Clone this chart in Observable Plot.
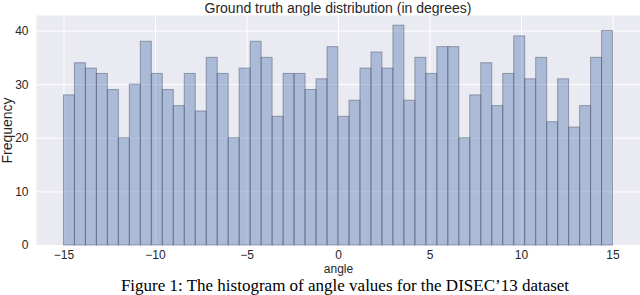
<!DOCTYPE html>
<html>
<head>
<meta charset="utf-8">
<script src="https://cdn.jsdelivr.net/npm/d3@7"></script>
<script src="https://cdn.jsdelivr.net/npm/@observablehq/plot@0.6"></script>
<style>
  html, body { margin: 0; padding: 0; background: #fff; }
  #wrap { position: relative; width: 640px; height: 295px; overflow: hidden; }
  #title { position: absolute; left: 36px; top: 0; width: 604px; height: 15px; line-height: 15px;
           text-align: center; font: 14px "Liberation Sans", Arial, sans-serif; color: #262626; white-space: nowrap; }
  #chart { position: absolute; left: 0; top: 15px; }
  #caption { position: absolute; left: 50px; top: 276px; width: 590px; height: 19px; line-height: 19px;
             text-align: center; font: 17px "Liberation Serif", "Times New Roman", serif; color: #000; white-space: nowrap; }
</style>
</head>
<body>
<div id="wrap">
  <div id="title"></div>
  <div id="chart"></div>
  <div id="caption"></div>
</div>
<script>
// ---- data ----
const titleText = "Ground truth angle distribution (in degrees)";
const captionText = "Figure 1: The histogram of angle values for the DISEC\u201913 dataset";
const xLabel = "angle";
const yLabel = "Frequency";
const binStart = -15;      // left edge of the first bin (degrees)
const binWidth = 0.6;      // 50 bins over [-15, 15]
const counts = [28,34,33,32,29,20,30,38,32,29,26,32,25,35,32,20,33,38,35,24,
                32,32,29,31,37,24,27,33,36,33,41,27,35,32,37,37,20,28,34,26,
                32,39,31,35,23,31,22,26,35,40];
const xTicks = [-15,-10,-5,0,5,10,15];
const yTicks = [0,10,20,30,40];

const bins = counts.map((c, i) => ({x1: binStart + i * binWidth, x2: binStart + (i + 1) * binWidth, count: c}));

document.getElementById("title").textContent = titleText;
document.getElementById("caption").textContent = captionText;

const fmt = d3.format("d");
const chart = Plot.plot({
  width: 640,
  height: 260,
  marginLeft: 36,
  marginRight: 0,
  marginTop: 0,
  marginBottom: 30,
  style: {fontFamily: "'Liberation Sans', Arial, sans-serif", fontSize: "12px", color: "#262626", background: "transparent", overflow: "visible"},
  x: {domain: [-16.5, 16.5], ticks: xTicks, tickFormat: fmt, tickSize: 0, tickPadding: 5, label: null},
  y: {domain: [0, 42.9], ticks: yTicks, tickFormat: fmt, tickSize: 0, tickPadding: 8, label: null},
  marks: [
    Plot.frame({fill: "#EAEAF2", stroke: null}),
    Plot.gridX(xTicks, {stroke: "#fff", strokeOpacity: 1, strokeWidth: 1}),
    Plot.gridY(yTicks, {stroke: "#fff", strokeOpacity: 1, strokeWidth: 1}),
    Plot.rectY(bins, {x1: "x1", x2: "x2", y: "count", fill: "#4C72B0", fillOpacity: 0.4, stroke: "#4f586c", strokeOpacity: 0.5, strokeWidth: 1, inset: 0}),
    Plot.text([xLabel], {frameAnchor: "bottom", dy: 23.5, textAnchor: "middle", lineAnchor: "middle", text: d => d, fontSize: 12, fill: "#262626"}),
    Plot.text([yLabel], {frameAnchor: "left", dx: -29, rotate: -90, textAnchor: "middle", lineAnchor: "middle", text: d => d, fontSize: 14, fill: "#262626"})
  ]
});
document.getElementById("chart").appendChild(chart);
</script>
</body>
</html>
